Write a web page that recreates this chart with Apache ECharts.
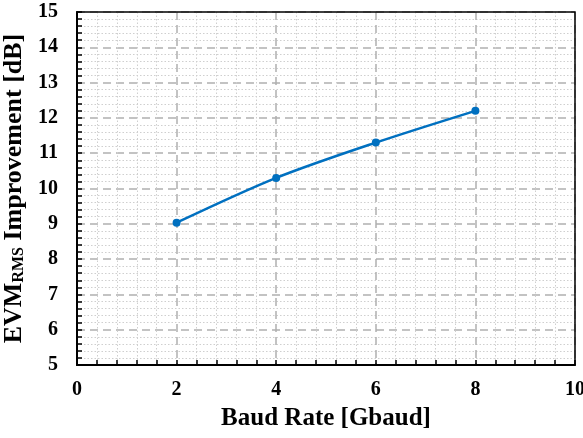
<!DOCTYPE html>
<html><head><meta charset="utf-8">
<script src="https://cdn.jsdelivr.net/npm/echarts@6/dist/echarts.min.js"></script>
<style>html,body{margin:0;padding:0;background:#fff}#c{width:583px;height:438px}</style>
</head><body><div id="c"></div>
<script>
const baudRate = [2, 4, 6, 8];
const evmImprovement = [9.03, 10.3, 11.3, 12.2];
const xTicks = [0, 2, 4, 6, 8, 10];
const yTicks = [5, 6, 7, 8, 9, 10, 11, 12, 13, 14, 15];

const font = '"Liberation Serif","Times New Roman",serif';
const chart = echarts.init(document.getElementById('c'));
chart.setOption({
  animation: false,
  grid: {left: 77, right: 8, top: 12, bottom: 73, show: false, containLabel: false, outerBoundsMode: 'none'},
  xAxis: {
    type: 'value', min: xTicks[0], max: xTicks[xTicks.length-1], interval: 2,
    name: 'Baud Rate [Gbaud]', nameLocation: 'middle', nameGap: 41,
    nameTextStyle: {fontFamily: font, fontWeight: 'bold', fontSize: 25, color: '#000'},
    axisLine: {show: true, onZero: false, lineStyle: {color: '#000', width: 2}},
    axisTick: {show: true, inside: true, length: 5, lineStyle: {color: '#000', width: 1.5}},
    minorTick: {show: true, splitNumber: 5, length: 5, lineStyle: {color: '#000', width: 1.5}},
    axisLabel: {fontFamily: font, fontWeight: 'bold', fontSize: 20, color: '#000', margin: 15},
    splitLine: {show: true, lineStyle: {color: '#b0b0b0', type: [8, 5], width: 1.5}},
    minorSplitLine: {show: true, lineStyle: {color: '#cfcfcf', type: [1.5, 2], width: 1}}
  },
  yAxis: {
    type: 'value', min: yTicks[0], max: yTicks[yTicks.length-1], interval: 1,
    name: '{m|EVM}{s|RMS}{m| Improvement [dB]}', nameLocation: 'middle', nameGap: 44,
    nameTextStyle: {
      fontFamily: font, fontWeight: 'bold', fontSize: 26, color: '#000',
      rich: {
        m: {fontFamily: font, fontWeight: 'bold', fontSize: 26, color: '#000'},
        s: {fontFamily: font, fontWeight: 'bold', fontSize: 16, color: '#000', padding: [9, 0, 0, 0]}
      }
    },
    axisLine: {show: true, onZero: false, lineStyle: {color: '#000', width: 2}},
    axisTick: {show: true, inside: true, length: 5, lineStyle: {color: '#000', width: 1.5}},
    minorTick: {show: true, splitNumber: 5, length: 5, lineStyle: {color: '#000', width: 1.5}},
    axisLabel: {fontFamily: font, fontWeight: 'bold', fontSize: 20, color: '#000', margin: 19},
    splitLine: {show: true, lineStyle: {color: '#b0b0b0', type: [8, 5], width: 1.5}},
    minorSplitLine: {show: true, lineStyle: {color: '#cfcfcf', type: [1.5, 2], width: 1}}
  },
  series: [{
    type: 'line', smooth: 0.3,
    data: baudRate.map((x, i) => [x, evmImprovement[i]]),
    symbol: 'circle', symbolSize: 8,
    lineStyle: {color: '#0070C0', width: 2.5},
    itemStyle: {color: '#0070C0'}
  }],
  graphic: [{
    type: 'rect', silent: true, z: 100,
    shape: {x: 77, y: 12, width: 498, height: 353},
    style: {fill: null, stroke: '#000', lineWidth: 1.5}
  }]
});
</script></body></html>
